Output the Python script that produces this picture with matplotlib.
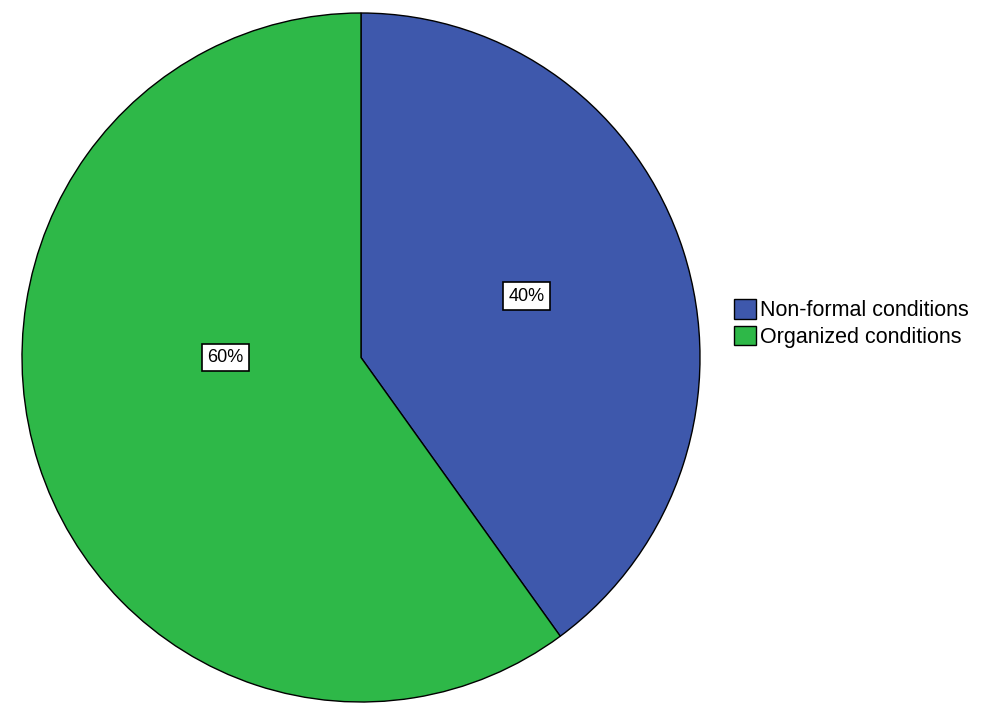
import matplotlib.pyplot as plt
import numpy as np

# Share of respondents by conditions
labels = ['Non-formal conditions', 'Organized conditions']
shares = [40, 60]
colors = ['#3e58ac', '#2eb848']

fig = plt.figure(figsize=(9.81, 7.05), dpi=100)
ax = fig.add_axes([22 / 981, 3 / 705, 678 / 981, 689 / 705])

wedges, _ = ax.pie(shares, colors=colors, startangle=90, counterclock=False,
                   radius=1.0, wedgeprops=dict(edgecolor='black', linewidth=1.0))

# Percentage labels placed inside each slice
label_pos = [(0.52, 20), (0.40, 180)]  # (radius fraction, angle in degrees)
for share, (r, ang) in zip(shares, label_pos):
    x = r * np.cos(np.radians(ang))
    y = r * np.sin(np.radians(ang))
    ax.text(x, y, f'{share}%', ha='center', va='center', fontsize=13,
            family='Liberation Sans',
            bbox=dict(boxstyle='square,pad=0.3', facecolor='white',
                      edgecolor='black', linewidth=1.2))

ax.set_xlim(-1.0, 1.0)
ax.set_ylim(-1.0, 1.0)
ax.set_aspect('auto')
ax.axis('off')

fig.legend(wedges, labels, loc='center left', bbox_to_anchor=(734 / 981, 1 - 323.5 / 705),
           frameon=False, prop={'family': 'Liberation Sans', 'size': 15.5},
           handlelength=1.0, handleheight=1.0, handletextpad=0.2,
           labelspacing=0.2, borderpad=0, borderaxespad=0)

fig.savefig('out.png', dpi=100)
